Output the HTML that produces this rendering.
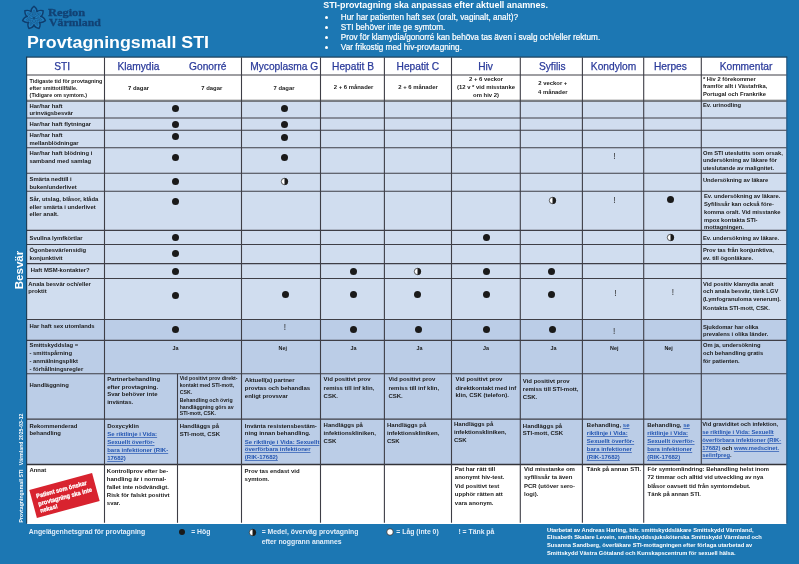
<!DOCTYPE html>
<html lang="sv"><head><meta charset="utf-8"><title>Provtagningsmall STI</title>
<style>
html,body{margin:0;padding:0}
body{width:799px;height:564px;background:#1c77b3;position:relative;overflow:hidden;font-family:"Liberation Sans",sans-serif;font-weight:bold;color:#1a1a1a}
#pg{position:absolute;left:0;top:0;width:799px;height:564px;will-change:transform}
.r{position:absolute}
.t{position:absolute;white-space:nowrap}
.a{color:#2456b2;text-decoration:underline;text-decoration-thickness:0.5px;text-underline-offset:0.7px;text-decoration-color:rgba(36,86,178,0.7)}
</style></head>
<body>
<div id="pg">
<svg class="r" style="left:0;top:0" width="799" height="564" viewBox="0 0 799 564" fill="none"><rect x="27.0" y="57.4" width="759.50" height="43.30" fill="#ffffff"/><rect x="27.0" y="100.7" width="759.50" height="218.80" fill="#d0ddef"/><rect x="27.0" y="319.5" width="759.50" height="145.00" fill="#bbcde7"/><rect x="27.0" y="464.5" width="759.50" height="59.50" fill="#ffffff"/><path d="M27.0 75.0L786.5 75.0" stroke="#3e3e46" stroke-width="1.1"/><path d="M27.0 100.15L786.5 100.15" stroke="#8e8e8e" stroke-width="1.0"/><path d="M27.0 101.15L786.5 101.15" stroke="#5a5a5e" stroke-width="1.1"/><path d="M27.0 118.0L786.5 118.0" stroke="#3e3e46" stroke-width="1.1"/><path d="M27.0 130.2L786.5 130.2" stroke="#3e3e46" stroke-width="1.1"/><path d="M27.0 147.8L786.5 147.8" stroke="#3e3e46" stroke-width="1.1"/><path d="M27.0 173.3L786.5 173.3" stroke="#3e3e46" stroke-width="1.1"/><path d="M27.0 191.3L786.5 191.3" stroke="#3e3e46" stroke-width="1.1"/><path d="M27.0 230.4L786.5 230.4" stroke="#3e3e46" stroke-width="1.1"/><path d="M27.0 244.5L786.5 244.5" stroke="#3e3e46" stroke-width="1.1"/><path d="M27.0 263.6L786.5 263.6" stroke="#3e3e46" stroke-width="1.1"/><path d="M27.0 278.5L786.5 278.5" stroke="#3e3e46" stroke-width="1.1"/><path d="M27.0 319.5L786.5 319.5" stroke="#3e3e46" stroke-width="1.1"/><path d="M27.0 340.4L786.5 340.4" stroke="#3e3e46" stroke-width="1.1"/><path d="M27.0 373.8L786.5 373.8" stroke="#3e3e46" stroke-width="1.1"/><path d="M27.0 419.1L786.5 419.1" stroke="#3e3e46" stroke-width="1.1"/><path d="M27.0 464.5L786.5 464.5" stroke="#333338" stroke-width="1.3"/><path d="M104.5 57.4L104.5 522.8" stroke="#3e3e46" stroke-width="1.1"/><path d="M177.5 373.8L177.5 522.8" stroke="#3e3e46" stroke-width="1.1"/><path d="M241.5 57.4L241.5 522.8" stroke="#3e3e46" stroke-width="1.1"/><path d="M320.5 57.4L320.5 522.8" stroke="#3e3e46" stroke-width="1.1"/><path d="M384.4 57.4L384.4 522.8" stroke="#3e3e46" stroke-width="1.1"/><path d="M451.5 57.4L451.5 522.8" stroke="#3e3e46" stroke-width="1.1"/><path d="M520.3 57.4L520.3 522.8" stroke="#3e3e46" stroke-width="1.1"/><path d="M582.4 57.4L582.4 522.8" stroke="#3e3e46" stroke-width="1.1"/><path d="M643.7 57.4L643.7 522.8" stroke="#3e3e46" stroke-width="1.1"/><path d="M701.3 57.4L701.3 464.5" stroke="#3e3e46" stroke-width="1.1"/><path d="M26.7 56.7L26.7 523.5" stroke="#1c2c3c" stroke-width="0.9"/><path d="M26.3 57.1L787.1999999999999 57.1" stroke="#1c2c3c" stroke-width="0.9"/><path d="M786.8 56.7L786.8 523.5" stroke="#1d4468" stroke-width="0.8"/></svg>
<div class="t" style="left:-137.80px;width:400px;text-align:center;top:59.65px;font-size:10.2px;line-height:13.26px;font-weight:normal;color:#2b3b9b;-webkit-text-stroke:0.25px #2b3b9b;">STI</div>
<div class="t" style="left:-61.50px;width:400px;text-align:center;top:59.65px;font-size:10.2px;line-height:13.26px;font-weight:normal;color:#2b3b9b;-webkit-text-stroke:0.25px #2b3b9b;">Klamydia</div>
<div class="t" style="left:7.80px;width:400px;text-align:center;top:59.65px;font-size:10.2px;line-height:13.26px;font-weight:normal;color:#2b3b9b;-webkit-text-stroke:0.25px #2b3b9b;">Gonorré</div>
<div class="t" style="left:84.20px;width:400px;text-align:center;top:59.65px;font-size:10.2px;line-height:13.26px;font-weight:normal;color:#2b3b9b;-webkit-text-stroke:0.25px #2b3b9b;">Mycoplasma G</div>
<div class="t" style="left:153.00px;width:400px;text-align:center;top:59.65px;font-size:10.2px;line-height:13.26px;font-weight:normal;color:#2b3b9b;-webkit-text-stroke:0.25px #2b3b9b;">Hepatit B</div>
<div class="t" style="left:217.80px;width:400px;text-align:center;top:59.65px;font-size:10.2px;line-height:13.26px;font-weight:normal;color:#2b3b9b;-webkit-text-stroke:0.25px #2b3b9b;">Hepatit C</div>
<div class="t" style="left:285.60px;width:400px;text-align:center;top:59.65px;font-size:10.2px;line-height:13.26px;font-weight:normal;color:#2b3b9b;-webkit-text-stroke:0.25px #2b3b9b;">Hiv</div>
<div class="t" style="left:352.30px;width:400px;text-align:center;top:59.65px;font-size:10.2px;line-height:13.26px;font-weight:normal;color:#2b3b9b;-webkit-text-stroke:0.25px #2b3b9b;">Syfilis</div>
<div class="t" style="left:413.50px;width:400px;text-align:center;top:59.65px;font-size:10.2px;line-height:13.26px;font-weight:normal;color:#2b3b9b;-webkit-text-stroke:0.25px #2b3b9b;">Kondylom</div>
<div class="t" style="left:470.40px;width:400px;text-align:center;top:59.65px;font-size:10.2px;line-height:13.26px;font-weight:normal;color:#2b3b9b;-webkit-text-stroke:0.25px #2b3b9b;">Herpes</div>
<div class="t" style="left:546.00px;width:400px;text-align:center;top:59.65px;font-size:10.2px;line-height:13.26px;font-weight:normal;color:#2b3b9b;-webkit-text-stroke:0.25px #2b3b9b;">Kommentar</div>
<div class="t" style="left:29.60px;top:78.31px;font-size:5.39px;line-height:7.01px;">Tidigaste tid för provtagning</div>
<div class="t" style="left:29.60px;top:85.31px;font-size:5.39px;line-height:7.01px;">efter smittotillfälle.</div>
<div class="t" style="left:29.60px;top:91.91px;font-size:5.39px;line-height:7.01px;">(Tidigare om symtom.)</div>
<div class="t" style="left:-61.50px;width:400px;text-align:center;top:84.73px;font-size:5.9px;line-height:7.67px;">7 dagar</div>
<div class="t" style="left:11.80px;width:400px;text-align:center;top:84.73px;font-size:5.9px;line-height:7.67px;">7 dagar</div>
<div class="t" style="left:84.00px;width:400px;text-align:center;top:84.73px;font-size:5.9px;line-height:7.67px;">7 dagar</div>
<div class="t" style="left:153.60px;width:400px;text-align:center;top:84.23px;font-size:5.9px;line-height:7.67px;">2 + 6 månader</div>
<div class="t" style="left:218.00px;width:400px;text-align:center;top:84.23px;font-size:5.9px;line-height:7.67px;">2 + 6 månader</div>
<div class="t" style="left:286.00px;width:400px;text-align:center;top:75.53px;font-size:5.9px;line-height:7.67px;">2 + 6 veckor</div>
<div class="t" style="left:286.00px;width:400px;text-align:center;top:84.13px;font-size:5.9px;line-height:7.67px;">(12 v * vid misstanke</div>
<div class="t" style="left:286.00px;width:400px;text-align:center;top:92.13px;font-size:5.9px;line-height:7.67px;">om hiv 2)</div>
<div class="t" style="left:352.80px;width:400px;text-align:center;top:80.33px;font-size:5.9px;line-height:7.67px;">2 veckor +</div>
<div class="t" style="left:352.80px;width:400px;text-align:center;top:88.83px;font-size:5.9px;line-height:7.67px;">4 månader</div>
<div class="t" style="left:702.90px;top:75.91px;font-size:5.8px;line-height:7.54px;">* Hiv 2 förekommer</div>
<div class="t" style="left:702.90px;top:83.31px;font-size:5.8px;line-height:7.54px;">framför allt i Västafrika,</div>
<div class="t" style="left:702.90px;top:91.01px;font-size:5.8px;line-height:7.54px;">Portugal och Frankrike</div>
<div class="t" style="left:29.50px;top:102.53px;font-size:5.9px;line-height:7.67px;">Har/har haft</div>
<div class="t" style="left:29.50px;top:109.93px;font-size:5.9px;line-height:7.67px;">urinvägsbesvär</div>
<div class="t" style="left:29.50px;top:120.73px;font-size:5.9px;line-height:7.67px;">Har/har haft flytningar</div>
<div class="t" style="left:29.50px;top:131.83px;font-size:5.9px;line-height:7.67px;">Har/har haft</div>
<div class="t" style="left:29.50px;top:139.93px;font-size:5.9px;line-height:7.67px;">mellanblödningar</div>
<div class="t" style="left:29.50px;top:150.03px;font-size:5.9px;line-height:7.67px;">Har/har haft blödning i</div>
<div class="t" style="left:29.50px;top:158.13px;font-size:5.9px;line-height:7.67px;">samband med samlag</div>
<div class="t" style="left:29.50px;top:175.93px;font-size:5.9px;line-height:7.67px;">Smärta nedtill i</div>
<div class="t" style="left:29.50px;top:183.63px;font-size:5.9px;line-height:7.67px;">buken/underlivet</div>
<div class="t" style="left:29.50px;top:196.13px;font-size:5.9px;line-height:7.67px;">Sår, utslag, blåsor, klåda</div>
<div class="t" style="left:29.50px;top:203.93px;font-size:5.9px;line-height:7.67px;">eller smärta i underlivet</div>
<div class="t" style="left:29.50px;top:211.43px;font-size:5.9px;line-height:7.67px;">eller analt.</div>
<div class="t" style="left:29.50px;top:235.13px;font-size:5.9px;line-height:7.67px;">Svullna lymfkörtlar</div>
<div class="t" style="left:29.50px;top:247.43px;font-size:5.9px;line-height:7.67px;">Ögonbesvär/ensidig</div>
<div class="t" style="left:29.50px;top:254.93px;font-size:5.9px;line-height:7.67px;">konjunktivit</div>
<div class="t" style="left:30.80px;top:267.03px;font-size:5.9px;line-height:7.67px;">Haft MSM-kontakter?</div>
<div class="t" style="left:28.30px;top:280.53px;font-size:5.9px;line-height:7.67px;">Anala besvär och/eller</div>
<div class="t" style="left:28.30px;top:288.23px;font-size:5.9px;line-height:7.67px;">proktit</div>
<div class="t" style="left:29.50px;top:322.53px;font-size:5.9px;line-height:7.67px;">Har haft sex utomlands</div>
<div class="t" style="left:29.50px;top:342.13px;font-size:5.9px;line-height:7.67px;">Smittskyddslag =</div>
<div class="t" style="left:29.50px;top:350.03px;font-size:5.9px;line-height:7.67px;">- smittspårning</div>
<div class="t" style="left:29.50px;top:357.93px;font-size:5.9px;line-height:7.67px;">- anmälningsplikt</div>
<div class="t" style="left:29.50px;top:366.03px;font-size:5.9px;line-height:7.67px;">- förhållningsregler</div>
<div class="t" style="left:29.50px;top:381.73px;font-size:5.9px;line-height:7.67px;">Handläggning</div>
<div class="t" style="left:29.50px;top:422.73px;font-size:5.9px;line-height:7.67px;">Rekommenderad</div>
<div class="t" style="left:29.50px;top:430.43px;font-size:5.9px;line-height:7.67px;">behandling</div>
<div class="t" style="left:29.50px;top:467.33px;font-size:5.9px;line-height:7.67px;">Annat</div>
<div class="r" style="left:171.90px;top:104.50px;width:7px;height:7px;border-radius:50%;background:#1a1a1a"></div>
<div class="r" style="left:171.90px;top:120.80px;width:7px;height:7px;border-radius:50%;background:#1a1a1a"></div>
<div class="r" style="left:171.90px;top:133.10px;width:7px;height:7px;border-radius:50%;background:#1a1a1a"></div>
<div class="r" style="left:171.90px;top:153.90px;width:7px;height:7px;border-radius:50%;background:#1a1a1a"></div>
<div class="r" style="left:171.90px;top:177.50px;width:7px;height:7px;border-radius:50%;background:#1a1a1a"></div>
<div class="r" style="left:171.90px;top:197.50px;width:7px;height:7px;border-radius:50%;background:#1a1a1a"></div>
<div class="r" style="left:171.90px;top:234.20px;width:7px;height:7px;border-radius:50%;background:#1a1a1a"></div>
<div class="r" style="left:171.90px;top:249.50px;width:7px;height:7px;border-radius:50%;background:#1a1a1a"></div>
<div class="r" style="left:171.90px;top:268.20px;width:7px;height:7px;border-radius:50%;background:#1a1a1a"></div>
<div class="r" style="left:171.90px;top:291.50px;width:7px;height:7px;border-radius:50%;background:#1a1a1a"></div>
<div class="r" style="left:171.90px;top:326.10px;width:7px;height:7px;border-radius:50%;background:#1a1a1a"></div>
<div class="r" style="left:280.80px;top:104.50px;width:7px;height:7px;border-radius:50%;background:#1a1a1a"></div>
<div class="r" style="left:280.80px;top:120.90px;width:7px;height:7px;border-radius:50%;background:#1a1a1a"></div>
<div class="r" style="left:280.80px;top:133.80px;width:7px;height:7px;border-radius:50%;background:#1a1a1a"></div>
<div class="r" style="left:280.80px;top:154.00px;width:7px;height:7px;border-radius:50%;background:#1a1a1a"></div>
<svg class="r" style="left:279.80px;top:177.20px" width="9.0" height="9.0" viewBox="-4.5 -4.5 9.0 9.0"><circle r="3.2" fill="#fff" stroke="#1a1a1a" stroke-width="0.7"/><path d="M0 -3.5 A3.5 3.5 0 0 1 0 3.5 Z" fill="#1a1a1a"/></svg>
<div class="r" style="left:282.10px;top:291.20px;width:7px;height:7px;border-radius:50%;background:#1a1a1a"></div>
<div class="t" style="left:84.80px;width:400px;text-align:center;top:322.93px;font-size:8.2px;line-height:10.66px;font-weight:normal;color:#2a2a2a;">!</div>
<div class="r" style="left:349.50px;top:268.20px;width:7px;height:7px;border-radius:50%;background:#1a1a1a"></div>
<div class="r" style="left:349.50px;top:291.20px;width:7px;height:7px;border-radius:50%;background:#1a1a1a"></div>
<div class="r" style="left:349.50px;top:326.30px;width:7px;height:7px;border-radius:50%;background:#1a1a1a"></div>
<svg class="r" style="left:412.50px;top:267.20px" width="9.0" height="9.0" viewBox="-4.5 -4.5 9.0 9.0"><circle r="3.2" fill="#fff" stroke="#1a1a1a" stroke-width="0.7"/><path d="M0 -3.5 A3.5 3.5 0 0 1 0 3.5 Z" fill="#1a1a1a"/></svg>
<div class="r" style="left:413.50px;top:291.20px;width:7px;height:7px;border-radius:50%;background:#1a1a1a"></div>
<div class="r" style="left:414.50px;top:326.30px;width:7px;height:7px;border-radius:50%;background:#1a1a1a"></div>
<div class="r" style="left:482.70px;top:234.20px;width:7px;height:7px;border-radius:50%;background:#1a1a1a"></div>
<div class="r" style="left:482.70px;top:268.10px;width:7px;height:7px;border-radius:50%;background:#1a1a1a"></div>
<div class="r" style="left:482.70px;top:291.20px;width:7px;height:7px;border-radius:50%;background:#1a1a1a"></div>
<div class="r" style="left:482.70px;top:326.30px;width:7px;height:7px;border-radius:50%;background:#1a1a1a"></div>
<svg class="r" style="left:547.90px;top:196.40px" width="9.0" height="9.0" viewBox="-4.5 -4.5 9.0 9.0"><circle r="3.2" fill="#fff" stroke="#1a1a1a" stroke-width="0.7"/><path d="M0 -3.5 A3.5 3.5 0 0 1 0 3.5 Z" fill="#1a1a1a"/></svg>
<div class="r" style="left:548.10px;top:267.70px;width:7px;height:7px;border-radius:50%;background:#1a1a1a"></div>
<div class="r" style="left:548.10px;top:291.20px;width:7px;height:7px;border-radius:50%;background:#1a1a1a"></div>
<div class="r" style="left:549.10px;top:325.70px;width:7px;height:7px;border-radius:50%;background:#1a1a1a"></div>
<div class="t" style="left:414.50px;width:400px;text-align:center;top:151.93px;font-size:8.2px;line-height:10.66px;font-weight:normal;color:#2a2a2a;">!</div>
<div class="t" style="left:414.50px;width:400px;text-align:center;top:195.53px;font-size:8.2px;line-height:10.66px;font-weight:normal;color:#2a2a2a;">!</div>
<div class="t" style="left:415.50px;width:400px;text-align:center;top:289.33px;font-size:8.2px;line-height:10.66px;font-weight:normal;color:#2a2a2a;">!</div>
<div class="t" style="left:414.20px;width:400px;text-align:center;top:326.93px;font-size:8.2px;line-height:10.66px;font-weight:normal;color:#2a2a2a;">!</div>
<div class="r" style="left:667.00px;top:195.50px;width:7px;height:7px;border-radius:50%;background:#1a1a1a"></div>
<svg class="r" style="left:666.00px;top:232.80px" width="9.0" height="9.0" viewBox="-4.5 -4.5 9.0 9.0"><circle r="3.2" fill="#fff" stroke="#1a1a1a" stroke-width="0.7"/><path d="M0 -3.5 A3.5 3.5 0 0 1 0 3.5 Z" fill="#1a1a1a"/></svg>
<div class="t" style="left:472.80px;width:400px;text-align:center;top:288.33px;font-size:8.2px;line-height:10.66px;font-weight:normal;color:#2a2a2a;">!</div>
<div class="t" style="left:-24.60px;width:400px;text-align:center;top:345.00px;font-size:5.4px;line-height:7.02px;">Ja</div>
<div class="t" style="left:82.80px;width:400px;text-align:center;top:345.00px;font-size:5.4px;line-height:7.02px;">Nej</div>
<div class="t" style="left:153.60px;width:400px;text-align:center;top:345.00px;font-size:5.4px;line-height:7.02px;">Ja</div>
<div class="t" style="left:219.50px;width:400px;text-align:center;top:345.00px;font-size:5.4px;line-height:7.02px;">Ja</div>
<div class="t" style="left:286.00px;width:400px;text-align:center;top:345.00px;font-size:5.4px;line-height:7.02px;">Ja</div>
<div class="t" style="left:353.40px;width:400px;text-align:center;top:345.00px;font-size:5.4px;line-height:7.02px;">Ja</div>
<div class="t" style="left:414.20px;width:400px;text-align:center;top:345.00px;font-size:5.4px;line-height:7.02px;">Nej</div>
<div class="t" style="left:468.60px;width:400px;text-align:center;top:345.00px;font-size:5.4px;line-height:7.02px;">Nej</div>
<div class="t" style="left:702.90px;top:102.41px;font-size:5.8px;line-height:7.54px;">Ev. urinodling</div>
<div class="t" style="left:702.90px;top:149.61px;font-size:5.8px;line-height:7.54px;">Om STI uteslutits som orsak,</div>
<div class="t" style="left:702.90px;top:157.31px;font-size:5.8px;line-height:7.54px;">undersökning av läkare för</div>
<div class="t" style="left:702.90px;top:164.71px;font-size:5.8px;line-height:7.54px;">uteslutande av malignitet.</div>
<div class="t" style="left:702.90px;top:176.71px;font-size:5.8px;line-height:7.54px;">Undersökning av läkare</div>
<div class="t" style="left:704.00px;top:193.21px;font-size:5.8px;line-height:7.54px;">Ev. undersökning av läkare.</div>
<div class="t" style="left:704.00px;top:201.11px;font-size:5.8px;line-height:7.54px;">Syfilissår kan också före-</div>
<div class="t" style="left:704.00px;top:208.81px;font-size:5.8px;line-height:7.54px;">komma oralt. Vid misstanke</div>
<div class="t" style="left:704.00px;top:216.81px;font-size:5.8px;line-height:7.54px;">mpox kontakta STI-</div>
<div class="t" style="left:704.00px;top:224.21px;font-size:5.8px;line-height:7.54px;">mottagningen.</div>
<div class="t" style="left:702.90px;top:234.61px;font-size:5.8px;line-height:7.54px;">Ev. undersökning av läkare.</div>
<div class="t" style="left:702.90px;top:247.01px;font-size:5.8px;line-height:7.54px;">Prov tas från konjunktiva,</div>
<div class="t" style="left:702.90px;top:254.71px;font-size:5.8px;line-height:7.54px;">ev. till ögonläkare.</div>
<div class="t" style="left:702.90px;top:280.61px;font-size:5.8px;line-height:7.54px;">Vid positiv klamydia analt</div>
<div class="t" style="left:702.90px;top:288.31px;font-size:5.8px;line-height:7.54px;">och anala besvär, tänk LGV</div>
<div class="t" style="left:702.90px;top:296.41px;font-size:5.8px;line-height:7.54px;">(Lymfogranuloma venerum).</div>
<div class="t" style="left:702.90px;top:304.61px;font-size:5.8px;line-height:7.54px;">Kontakta STI-mott, CSK.</div>
<div class="t" style="left:702.90px;top:323.81px;font-size:5.8px;line-height:7.54px;">Sjukdomar har olika</div>
<div class="t" style="left:702.90px;top:330.61px;font-size:5.8px;line-height:7.54px;">prevalens i olika länder.</div>
<div class="t" style="left:702.90px;top:342.41px;font-size:5.8px;line-height:7.54px;">Om ja, undersökning</div>
<div class="t" style="left:702.90px;top:350.11px;font-size:5.8px;line-height:7.54px;">och behandling gratis</div>
<div class="t" style="left:702.90px;top:358.31px;font-size:5.8px;line-height:7.54px;">för patienten.</div>
<div class="t" style="left:107.20px;top:376.06px;font-size:6px;line-height:7.80px;">Partnerbehandling</div>
<div class="t" style="left:107.20px;top:383.56px;font-size:6px;line-height:7.80px;">efter provtagning.</div>
<div class="t" style="left:107.20px;top:391.36px;font-size:6px;line-height:7.80px;">Svar behöver inte</div>
<div class="t" style="left:107.20px;top:399.06px;font-size:6px;line-height:7.80px;">inväntas.</div>
<div class="t" style="left:179.70px;top:375.26px;font-size:5.19px;line-height:6.75px;">Vid positivt prov direkt-</div>
<div class="t" style="left:179.70px;top:382.26px;font-size:5.19px;line-height:6.75px;">kontakt med STI-mott,</div>
<div class="t" style="left:179.70px;top:389.06px;font-size:5.19px;line-height:6.75px;">CSK.</div>
<div class="t" style="left:179.70px;top:396.56px;font-size:5.19px;line-height:6.75px;">Behandling och övrig</div>
<div class="t" style="left:179.70px;top:403.56px;font-size:5.19px;line-height:6.75px;">handläggning görs av</div>
<div class="t" style="left:179.70px;top:410.16px;font-size:5.19px;line-height:6.75px;">STI-mott, CSK.</div>
<div class="t" style="left:244.80px;top:376.86px;font-size:6px;line-height:7.80px;">Aktuell(a) partner</div>
<div class="t" style="left:244.80px;top:384.96px;font-size:6px;line-height:7.80px;">provtas och behandlas</div>
<div class="t" style="left:244.80px;top:392.76px;font-size:6px;line-height:7.80px;">enligt provsvar</div>
<div class="t" style="left:323.60px;top:376.36px;font-size:6px;line-height:7.80px;">Vid positivt prov</div>
<div class="t" style="left:323.60px;top:384.66px;font-size:6px;line-height:7.80px;">remiss till inf klin,</div>
<div class="t" style="left:323.60px;top:392.76px;font-size:6px;line-height:7.80px;">CSK.</div>
<div class="t" style="left:388.40px;top:376.36px;font-size:6px;line-height:7.80px;">Vid positivt prov</div>
<div class="t" style="left:388.40px;top:384.66px;font-size:6px;line-height:7.80px;">remiss till inf klin,</div>
<div class="t" style="left:388.40px;top:392.76px;font-size:6px;line-height:7.80px;">CSK.</div>
<div class="t" style="left:455.50px;top:376.36px;font-size:6px;line-height:7.80px;">Vid positivt prov</div>
<div class="t" style="left:455.50px;top:384.66px;font-size:6px;line-height:7.80px;">direktkontakt med inf</div>
<div class="t" style="left:455.50px;top:392.46px;font-size:6px;line-height:7.80px;">klin, CSK (telefon).</div>
<div class="t" style="left:522.80px;top:377.86px;font-size:6px;line-height:7.80px;">Vid positivt prov</div>
<div class="t" style="left:522.80px;top:385.86px;font-size:6px;line-height:7.80px;">remiss till STI-mott,</div>
<div class="t" style="left:522.80px;top:393.66px;font-size:6px;line-height:7.80px;">CSK.</div>
<div class="t" style="left:107.20px;top:423.06px;font-size:6px;line-height:7.80px;">Doxycyklin</div>
<div class="t" style="left:107.20px;top:430.76px;font-size:6px;line-height:7.80px;"><span class="a">Se riktlinje i Vida:</span></div>
<div class="t" style="left:107.20px;top:438.56px;font-size:6px;line-height:7.80px;"><span class="a">Sexuellt överför-</span></div>
<div class="t" style="left:107.20px;top:446.86px;font-size:6px;line-height:7.80px;"><span class="a">bara infektioner (RIK-</span></div>
<div class="t" style="left:107.20px;top:454.66px;font-size:6px;line-height:7.80px;"><span class="a">17682)</span></div>
<div class="t" style="left:179.70px;top:423.06px;font-size:6px;line-height:7.80px;">Handläggs på</div>
<div class="t" style="left:179.70px;top:430.76px;font-size:6px;line-height:7.80px;">STI-mott, CSK</div>
<div class="t" style="left:244.80px;top:423.06px;font-size:6px;line-height:7.80px;">Invänta resistensbestäm-</div>
<div class="t" style="left:244.80px;top:430.26px;font-size:6px;line-height:7.80px;">ning innan behandling.</div>
<div class="t" style="left:244.80px;top:438.56px;font-size:6px;line-height:7.80px;"><span class="a">Se riktlinje i Vida: Sexuellt</span></div>
<div class="t" style="left:244.80px;top:446.36px;font-size:6px;line-height:7.80px;"><span class="a">överförbara infektioner</span></div>
<div class="t" style="left:244.80px;top:453.86px;font-size:6px;line-height:7.80px;"><span class="a">(RIK-17682)</span></div>
<div class="t" style="left:323.60px;top:422.16px;font-size:6px;line-height:7.80px;">Handläggs på</div>
<div class="t" style="left:323.60px;top:429.96px;font-size:6px;line-height:7.80px;">infektionskliniken,</div>
<div class="t" style="left:323.60px;top:438.26px;font-size:6px;line-height:7.80px;">CSK</div>
<div class="t" style="left:387.00px;top:422.16px;font-size:6px;line-height:7.80px;">Handläggs på</div>
<div class="t" style="left:387.00px;top:429.96px;font-size:6px;line-height:7.80px;">infektionskliniken,</div>
<div class="t" style="left:387.00px;top:438.26px;font-size:6px;line-height:7.80px;">CSK</div>
<div class="t" style="left:454.00px;top:421.26px;font-size:6px;line-height:7.80px;">Handläggs på</div>
<div class="t" style="left:454.00px;top:429.36px;font-size:6px;line-height:7.80px;">infektionskliniken,</div>
<div class="t" style="left:454.00px;top:437.46px;font-size:6px;line-height:7.80px;">CSK</div>
<div class="t" style="left:522.80px;top:422.56px;font-size:6px;line-height:7.80px;">Handläggs på</div>
<div class="t" style="left:522.80px;top:430.36px;font-size:6px;line-height:7.80px;">STI-mott, CSK</div>
<div class="t" style="left:586.80px;top:422.46px;font-size:6px;line-height:7.80px;">Behandling, <span class="a">se</span></div>
<div class="t" style="left:586.80px;top:430.46px;font-size:6px;line-height:7.80px;"><span class="a">riktlinje i Vida:</span></div>
<div class="t" style="left:586.80px;top:438.16px;font-size:6px;line-height:7.80px;"><span class="a">Sexuellt överför-</span></div>
<div class="t" style="left:586.80px;top:446.06px;font-size:6px;line-height:7.80px;"><span class="a">bara infektioner</span></div>
<div class="t" style="left:586.80px;top:453.86px;font-size:6px;line-height:7.80px;"><span class="a">(RIK-17682)</span></div>
<div class="t" style="left:647.20px;top:422.46px;font-size:6px;line-height:7.80px;">Behandling, <span class="a">se</span></div>
<div class="t" style="left:647.20px;top:430.46px;font-size:6px;line-height:7.80px;"><span class="a">riktlinje i Vida:</span></div>
<div class="t" style="left:647.20px;top:438.16px;font-size:6px;line-height:7.80px;"><span class="a">Sexuellt överför-</span></div>
<div class="t" style="left:647.20px;top:446.06px;font-size:6px;line-height:7.80px;"><span class="a">bara infektioner</span></div>
<div class="t" style="left:647.20px;top:453.86px;font-size:6px;line-height:7.80px;"><span class="a">(RIK-17682)</span></div>
<div class="t" style="left:702.30px;top:421.31px;font-size:5.8px;line-height:7.54px;">Vid graviditet och infektion,</div>
<div class="t" style="left:702.30px;top:429.11px;font-size:5.8px;line-height:7.54px;"><span class="a">se riktlinje i Vida: Sexuellt</span></div>
<div class="t" style="left:702.30px;top:436.91px;font-size:5.8px;line-height:7.54px;"><span class="a">överförbara infektioner (RIK-</span></div>
<div class="t" style="left:702.30px;top:444.61px;font-size:5.8px;line-height:7.54px;"><span class="a">17682)</span> och <span class="a">www.medscinet.</span></div>
<div class="t" style="left:702.30px;top:452.21px;font-size:5.8px;line-height:7.54px;"><span class="a">se/infpreg</span>.</div>
<div class="t" style="left:106.80px;top:467.76px;font-size:6px;line-height:7.80px;">Kontrollprov efter be-</div>
<div class="t" style="left:106.80px;top:475.66px;font-size:6px;line-height:7.80px;">handling är i normal-</div>
<div class="t" style="left:106.80px;top:483.86px;font-size:6px;line-height:7.80px;">fallet inte nödvändigt.</div>
<div class="t" style="left:106.80px;top:491.76px;font-size:6px;line-height:7.80px;">Risk för falskt positivt</div>
<div class="t" style="left:106.80px;top:499.66px;font-size:6px;line-height:7.80px;">svar.</div>
<div class="t" style="left:244.60px;top:467.76px;font-size:6px;line-height:7.80px;">Prov tas endast vid</div>
<div class="t" style="left:244.60px;top:475.66px;font-size:6px;line-height:7.80px;">symtom.</div>
<div class="t" style="left:454.80px;top:466.26px;font-size:6px;line-height:7.80px;">Pat har rätt till</div>
<div class="t" style="left:454.80px;top:474.36px;font-size:6px;line-height:7.80px;">anonymt hiv-test.</div>
<div class="t" style="left:454.80px;top:482.86px;font-size:6px;line-height:7.80px;">Vid positivt test</div>
<div class="t" style="left:454.80px;top:490.86px;font-size:6px;line-height:7.80px;">upphör rätten att</div>
<div class="t" style="left:454.80px;top:499.86px;font-size:6px;line-height:7.80px;">vara anonym.</div>
<div class="t" style="left:524.00px;top:466.26px;font-size:6px;line-height:7.80px;">Vid misstanke om</div>
<div class="t" style="left:524.00px;top:474.36px;font-size:6px;line-height:7.80px;">syfilissår ta även</div>
<div class="t" style="left:524.00px;top:482.86px;font-size:6px;line-height:7.80px;">PCR (utöver sero-</div>
<div class="t" style="left:524.00px;top:490.86px;font-size:6px;line-height:7.80px;">logi).</div>
<div class="t" style="left:586.50px;top:466.26px;font-size:6px;line-height:7.80px;">Tänk på annan STI.</div>
<div class="t" style="left:647.60px;top:466.36px;font-size:5.86px;line-height:7.62px;">För symtomlindring: Behandling helst inom</div>
<div class="t" style="left:647.60px;top:474.46px;font-size:5.86px;line-height:7.62px;">72 timmar och alltid vid utveckling av nya</div>
<div class="t" style="left:647.60px;top:482.96px;font-size:5.86px;line-height:7.62px;">blåsor oavsett tid från symtomdebut.</div>
<div class="t" style="left:647.60px;top:490.96px;font-size:5.86px;line-height:7.62px;">Tänk på annan STI.</div>
<div class="r" style="left:32.49px;top:481.10px;width:64.5px;height:29.0px;background:#d8232f;transform:rotate(-15.1deg);color:#fff;font-size:6.1px;line-height:7.8px;font-weight:bold;padding:3.8px 0 0 5.2px;box-sizing:border-box;white-space:nowrap;-webkit-text-stroke:0.25px #fff"><div style="transform:scaleX(0.93);transform-origin:left center">Patient som önskar<br>provtagning ska inte<br>nekas!</div></div>
<div class="t" style="left:26.60px;top:33.41px;font-size:15.8px;line-height:20.54px;color:#fff;transform:scaleX(1.127);transform-origin:left center;">Provtagningsmall STI</div>
<div class="t" style="left:323.20px;top:0.11px;font-size:8.91px;line-height:11.58px;color:#fff;">STI-provtagning ska anpassas efter aktuell anamnes.</div>
<div class="t" style="left:340.80px;top:12.84px;font-size:8.19px;line-height:10.65px;font-weight:normal;color:#fff;-webkit-text-stroke:0.2px #fff;">Hur har patienten haft sex (oralt, vaginalt, analt)?</div>
<div class="r" style="left:324.5px;top:16.2px;width:3.1px;height:3.1px;border-radius:50%;background:#fff"></div>
<div class="t" style="left:340.80px;top:22.84px;font-size:8.19px;line-height:10.65px;font-weight:normal;color:#fff;-webkit-text-stroke:0.2px #fff;">STI behöver inte ge symtom.</div>
<div class="r" style="left:324.5px;top:26.2px;width:3.1px;height:3.1px;border-radius:50%;background:#fff"></div>
<div class="t" style="left:340.80px;top:32.94px;font-size:8.19px;line-height:10.65px;font-weight:normal;color:#fff;-webkit-text-stroke:0.2px #fff;">Prov för klamydia/gonorré kan behöva tas även i svalg och/eller rektum.</div>
<div class="r" style="left:324.5px;top:36.3px;width:3.1px;height:3.1px;border-radius:50%;background:#fff"></div>
<div class="t" style="left:340.80px;top:42.84px;font-size:8.19px;line-height:10.65px;font-weight:normal;color:#fff;-webkit-text-stroke:0.2px #fff;">Var frikostig med hiv-provtagning.</div>
<div class="r" style="left:324.5px;top:46.2px;width:3.1px;height:3.1px;border-radius:50%;background:#fff"></div>
<div class="t" style="left:18.5px;top:270px;width:0;height:0;color:#fff;font-size:11.6px;line-height:12px"><div style="position:absolute;transform:translate(-50%,-50%) rotate(-90deg);white-space:nowrap">Besvär</div></div>
<div class="t" style="left:20.9px;top:467.5px;width:0;height:0;color:#fff;font-size:5.2px;line-height:6px"><div style="position:absolute;transform:translate(-50%,-50%) rotate(-90deg);white-space:pre">Provtagningsmall STI   Värmland 2025-03-12</div></div>
<div class="t" style="left:28.80px;top:528.23px;font-size:6.85px;line-height:8.90px;color:#e2eefa;">Angelägenhetsgrad för provtagning</div>
<div class="r" style="left:178.70px;top:528.50px;width:6.6px;height:6.6px;border-radius:50%;background:#1a1a1a"></div>
<div class="t" style="left:191.20px;top:528.23px;font-size:6.85px;line-height:8.90px;color:#e2eefa;">= Hög</div>
<svg class="r" style="left:248.40px;top:527.60px" width="9.0" height="9.0" viewBox="-4.5 -4.5 9.0 9.0"><circle r="3.2" fill="#fff" stroke="#1a1a1a" stroke-width="0.7"/><path d="M0 -3.5 A3.5 3.5 0 0 1 0 3.5 Z" fill="#1a1a1a"/></svg>
<div class="t" style="left:261.70px;top:528.23px;font-size:6.85px;line-height:8.90px;color:#e2eefa;">= Medel, överväg provtagning</div>
<div class="t" style="left:261.70px;top:537.63px;font-size:6.85px;line-height:8.90px;color:#e2eefa;">efter noggrann anamnes</div>
<svg class="r" style="left:385.4px;top:526.8px" width="10" height="10" viewBox="-5 -5 10 10"><circle r="3.3" fill="#fff" stroke="#2a2a2e" stroke-width="0.8"/></svg>
<div class="t" style="left:396.30px;top:528.23px;font-size:6.85px;line-height:8.90px;color:#e2eefa;">= Låg (inte 0)</div>
<div class="t" style="left:458.40px;top:528.23px;font-size:6.85px;line-height:8.90px;color:#e2eefa;">! = Tänk på</div>
<div class="t" style="left:547.00px;top:527.34px;font-size:5.75px;line-height:7.48px;color:#fff;">Utarbetat av Andreas Harling, bitr. smittskyddsläkare Smittskydd Värmland,</div>
<div class="t" style="left:547.00px;top:534.44px;font-size:5.75px;line-height:7.48px;color:#fff;">Elisabeth Skalare Levein, smittskyddssjuksköterska Smittskydd Värmland och</div>
<div class="t" style="left:547.00px;top:542.04px;font-size:5.75px;line-height:7.48px;color:#fff;">Susanna Sandberg, överläkare STI-mottagningen efter förlaga utarbetad av</div>
<div class="t" style="left:547.00px;top:549.64px;font-size:5.75px;line-height:7.48px;color:#fff;">Smittskydd Västra Götaland och Kunskapscentrum för sexuell hälsa.</div>
<svg class="r" style="left:20.5px;top:4.85px" width="26" height="26" viewBox="-13 -13 26 26" fill="none" stroke="#0f3e6e" stroke-linejoin="round" stroke-linecap="round"><path d="M-2.95 -6.13C-3.40 -8.60 -1.90 -10.20 0.00 -11.70C1.90 -10.20 3.40 -8.60 2.95 -6.13C4.60 -8.02 6.79 -7.85 9.15 -7.29C9.16 -4.87 8.84 -2.70 6.63 -1.51C9.14 -1.40 10.37 0.42 11.41 2.60C9.52 4.12 7.63 5.23 5.32 4.24C6.79 6.27 6.14 8.37 5.08 10.54C2.71 10.01 0.67 9.22 0.00 6.80C-0.67 9.22 -2.71 10.01 -5.08 10.54C-6.14 8.37 -6.79 6.27 -5.32 4.24C-7.63 5.23 -9.52 4.12 -11.41 2.60C-10.37 0.42 -9.14 -1.40 -6.63 -1.51C-8.84 -2.70 -9.16 -4.87 -9.15 -7.29C-6.79 -7.85 -4.60 -8.02 -2.95 -6.13Z" stroke-width="1.45" fill="#2585c9" fill-opacity="0.55"/><path d="M-1.52 -3.15C-1.70 -5.20 -1.10 -6.80 0.00 -8.20C1.10 -6.80 1.70 -5.20 1.52 -3.15C3.01 -4.57 4.63 -5.10 6.41 -5.11C6.00 -3.38 5.13 -1.91 3.41 -0.78C5.45 -0.50 6.87 0.44 7.99 1.82C6.38 2.59 4.69 2.81 2.74 2.18C3.79 3.95 3.94 5.65 3.56 7.39C1.96 6.60 0.72 5.42 0.00 3.50C-0.72 5.42 -1.96 6.60 -3.56 7.39C-3.94 5.65 -3.79 3.95 -2.74 2.18C-4.69 2.81 -6.38 2.59 -7.99 1.82C-6.87 0.44 -5.45 -0.50 -3.41 -0.78C-5.13 -1.91 -6.00 -3.38 -6.41 -5.11C-4.63 -5.10 -3.01 -4.57 -1.52 -3.15Z" stroke-width="0.55" stroke="#17507f"/><path d="M0 0L0.00 -6.00M0 0L4.69 -3.74M0 0L5.85 1.34M0 0L2.60 5.41M0 0L-2.60 5.41M0 0L-5.85 1.34M0 0L-4.69 -3.74" stroke-width="0.65" stroke="#134878"/><circle r="0.7" fill="#134878" stroke="none"/></svg>
<div class="t" style="left:48.10px;top:5.83px;font-size:10.7px;line-height:13.91px;font-family:'Liberation Serif',serif;color:#124274;-webkit-text-stroke:0.3px #124274;transform:scaleX(1.16);transform-origin:left center;">Region</div>
<div class="t" style="left:48.50px;top:16.03px;font-size:10.7px;line-height:13.91px;font-family:'Liberation Serif',serif;color:#124274;-webkit-text-stroke:0.3px #124274;transform:scaleX(1.105);transform-origin:left center;">Värmland</div>
</div>
</body></html>
